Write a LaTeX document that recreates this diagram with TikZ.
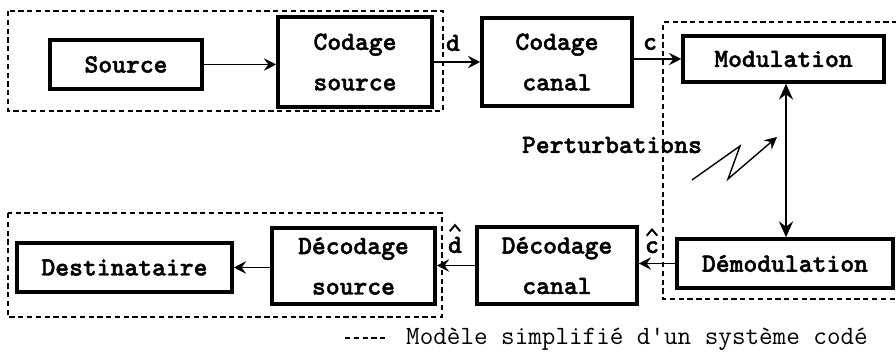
\documentclass[tikz,border=0pt]{standalone}
\usepackage{fontspec}
\usepackage{tikz}
\usetikzlibrary{arrows.meta}
\newfontfamily\gras{lmmonolt10-bold.otf}[FakeBold=1.6]

\tikzset{
  bloc/.style={draw, line width=2pt, inner sep=0pt, align=center,
    font=\gras\fontsize{15}{23}\selectfont},
  fleche/.style={-{Stealth[length=7pt, width=7pt, inset=2.5pt]}, line width=0.9pt},
  cadre/.style={densely dashed, line width=0.7pt},
  etiq/.style={font=\gras\fontsize{15}{18}\selectfont},
  chapeau/.style={line width=1.1pt, line join=miter}
}

\begin{document}
\begin{tikzpicture}
  \useasboundingbox (0,0) rectangle (17.92,7.1);

  % Draw the emission chain
  \node[bloc, minimum width=3.04cm, minimum height=0.98cm] (src) at (2.52,5.81) {Source};
  \node[bloc, minimum width=3.08cm, minimum height=1.8cm] (csrc) at (7.10,5.86) {Codage\\source};
  \node[bloc, minimum width=3.0cm, minimum height=1.76cm] (ccan) at (11.14,5.86) {Codage\\canal};
  \node[bloc, minimum width=4.02cm, minimum height=0.92cm] (mod) at (15.67,5.92) {Modulation};

  % Draw the reception chain
  \node[bloc, minimum width=4.32cm, minimum height=0.98cm] (demod) at (15.70,1.83) {Démodulation};
  \node[bloc, minimum width=3.2cm, minimum height=1.54cm] (dcan) at (11.14,1.79) {Décodage\\canal};
  \node[bloc, minimum width=3.26cm, minimum height=1.52cm] (dsrc) at (7.07,1.78) {Décodage\\source};
  \node[bloc, minimum width=4.3cm, minimum height=0.98cm] (dest) at (2.49,1.75) {Destinataire};

  % Connect the blocks
  \draw[fleche] (src) -- (src -| csrc.west);
  \draw[fleche] (csrc) -- (csrc -| ccan.west);
  \draw[fleche] (ccan.east |- mod) -- (mod);
  \draw[fleche] (demod) -- (demod -| dcan.east);
  \draw[fleche] (dcan) -- (dcan -| dsrc.east);
  \draw[fleche] (dsrc.west |- dest) -- (dest);
  \draw[{Stealth[length=9pt, width=8pt, inset=3pt]}-{Stealth[length=9pt, width=8pt, inset=3pt]}, line width=1.4pt]
    ([xshift=0.05cm]mod.south) -- ([xshift=0.05cm]mod.south |- demod.north);

  % Label the signals
  \node[etiq] (d) at (9.06,6.24) {d};
  \node[etiq] (c) at (13.0,6.22) {c};
  \node[etiq, anchor=base, inner sep=1pt] (dh) at (9.1,2.04) {d};
  \node[etiq, anchor=base, inner sep=1pt] (ch) at (13.04,2.04) {c};
  \foreach \n in {dh,ch} {
    \draw[chapeau] ([shift={(-3pt,2pt)}]\n.north) -- ([shift={(0pt,5.5pt)}]\n.north) -- ([shift={(3pt,2pt)}]\n.north);
  }

  % Draw the disturbances
  \node[etiq] (pert) at (12.24,4.2) {Perturbations};
  \draw[fleche, line width=0.8pt] (13.84,3.50) -- (14.80,4.18) -- (14.56,3.52) -- (15.54,4.36);

  % Draw the dashed frames
  \draw[cadre] (0.16,6.88) rectangle (8.86,4.88);
  \draw[cadre] (17.95,6.66) -- (13.26,6.66) -- (13.26,1.12) -- (17.95,1.12);
  \draw[cadre] (0.16,2.84) rectangle (8.84,0.76);

  % Legend
  \node[anchor=west, font=\ttfamily\fontsize{15}{18}\selectfont] (legende) at (8.0,0.32) {Modèle simplifié d'un système codé};
  \draw[cadre] (6.9,0.34) -- (7.76,0.34);
\end{tikzpicture}
\end{document}
